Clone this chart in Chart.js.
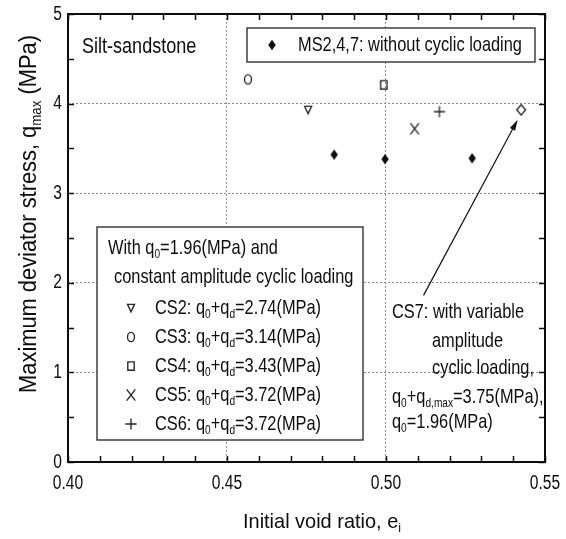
<!DOCTYPE html>
<html>
<head>
<meta charset="utf-8">
<script src="https://cdn.jsdelivr.net/npm/chart.js@4.4.1/dist/chart.umd.min.js"></script>
<style>
  html, body { margin: 0; padding: 0; background: #fff; }
</style>
</head>
<body>
<canvas id="chart" width="566" height="539"></canvas>
<script>
// Monotonic tests (MS2,4,7)
const msVoid = [0.4837, 0.4997, 0.5271];
const msQmax = [3.43, 3.38, 3.39];

// Constant amplitude cyclic tests CS2..CS6
const csNames = ['CS2', 'CS3', 'CS4', 'CS5', 'CS6'];
const csVoid = [0.4755, 0.4566, 0.4993, 0.5090, 0.5168];
const csQmax = [3.93, 4.27, 4.21, 3.72, 3.91];
const csLoad = ['2.74', '3.14', '3.43', '3.72', '3.72'];
const csShape = ['tri', 'circle', 'square', 'cross', 'plus'];

// Variable amplitude test CS7
const cs7Void = [0.5425];
const cs7Qmax = [3.93];

// Arrow from the CS7 note to its point: [x, y] in data units
const arrowTail = [0.5118, 1.86];
const arrowHead = [0.5414, 3.82];

const xLabels = [0.40, 0.45, 0.50, 0.55];
const yLabels = [0, 1, 2, 3, 4, 5];

const FONT = '"Liberation Sans", Arial, sans-serif';
const INK = '#0d0d0d';
const NARROW = 0.78;   // condensed look of the plot lettering

// small canvases used as point styles (markers are a bit taller than wide)
function marker(kind) {
    const c = document.createElement('canvas');
    c.width = 16; c.height = 16;
    const g = c.getContext('2d');
    const cx = 8, cy = 8;
    g.strokeStyle = '#262626';
    g.fillStyle = '#0d0d0d';
    g.lineWidth = 1.35;
    g.beginPath();
    if (kind === 'diamond' || kind === 'odiamond') {
        const w = kind === 'diamond' ? 3.7 : 4.4, h = 5.2;
        g.moveTo(cx, cy - h); g.lineTo(cx + w, cy); g.lineTo(cx, cy + h); g.lineTo(cx - w, cy); g.closePath();
        if (kind === 'diamond') g.fill(); else g.stroke();
    } else if (kind === 'tri') {
        g.moveTo(cx - 3.5, cy - 3.6); g.lineTo(cx + 3.5, cy - 3.6); g.lineTo(cx, cy + 3.9); g.closePath();
        g.stroke();
    } else if (kind === 'circle') {
        g.ellipse(cx, cy, 3.5, 4.6, 0, 0, Math.PI * 2);
        g.stroke();
    } else if (kind === 'square') {
        g.rect(cx - 3.2, cy - 4.2, 6.4, 8.4);
        g.stroke();
    } else if (kind === 'cross') {
        g.moveTo(cx - 4.3, cy - 5.6); g.lineTo(cx + 4.3, cy + 5.6);
        g.moveTo(cx + 4.3, cy - 5.6); g.lineTo(cx - 4.3, cy + 5.6);
        g.stroke();
    } else if (kind === 'plus') {
        g.moveTo(cx - 5.6, cy); g.lineTo(cx + 5.6, cy);
        g.moveTo(cx, cy - 5.6); g.lineTo(cx, cy + 5.6);
        g.stroke();
    }
    return c;
}

const markers = {};
['diamond', 'odiamond', 'tri', 'circle', 'square', 'cross', 'plus'].forEach(k => { markers[k] = marker(k); });

// text made of runs, a run flagged true is a subscript; sx squeezes it horizontally
function drawRuns(ctx, runs, x, y, size, align = 'left', sx = NARROW) {
    const subSize = Math.round(size * 0.62);
    const fontOf = sub => `${sub ? subSize : size}px ${FONT}`;
    let total = 0;
    runs.forEach(([t, sub]) => { ctx.font = fontOf(sub); total += ctx.measureText(t).width; });
    let cx = align === 'center' ? -total / 2 : align === 'right' ? -total : 0;
    ctx.save();
    ctx.translate(x, y);
    ctx.scale(sx, 1);
    ctx.textAlign = 'left';
    ctx.textBaseline = 'middle';
    ctx.fillStyle = INK;
    runs.forEach(([t, sub]) => {
        ctx.font = fontOf(sub);
        ctx.fillText(t, cx, sub ? size * 0.3 : 0);
        cx += ctx.measureText(t).width;
    });
    ctx.restore();
}

const isLabel = (v, list) => list.some(t => Math.abs(t - v) < 1e-6);

const decor = {
    id: 'decor',
    afterDatasetsDraw(chart) {
        const { ctx, chartArea: a, scales: { x, y } } = chart;
        ctx.save();

        // frame
        ctx.strokeStyle = '#0d0d0d';
        ctx.lineWidth = 2;
        ctx.strokeRect(a.left, a.top, a.right - a.left, a.bottom - a.top);

        // inward ticks on all four sides
        ctx.lineWidth = 1.5;
        ctx.beginPath();
        x.ticks.forEach(t => {
            const px = Math.round(x.getPixelForValue(t.value)) + 0.5;
            ctx.moveTo(px, a.bottom); ctx.lineTo(px, a.bottom - 6);
            ctx.moveTo(px, a.top); ctx.lineTo(px, a.top + 6);
        });
        y.ticks.forEach(t => {
            const py = Math.round(y.getPixelForValue(t.value)) + 0.5;
            ctx.moveTo(a.left, py); ctx.lineTo(a.left + 6, py);
            ctx.moveTo(a.right, py); ctx.lineTo(a.right - 6, py);
        });
        ctx.stroke();

        // tick labels
        x.ticks.forEach(t => {
            if (isLabel(t.value, xLabels)) drawRuns(ctx, [[t.value.toFixed(2)]], x.getPixelForValue(t.value), a.bottom + 21, 20, 'center');
        });
        y.ticks.forEach(t => {
            if (isLabel(t.value, yLabels)) drawRuns(ctx, [[String(t.value)]], a.left - 6, y.getPixelForValue(t.value), 20, 'right');
        });

        // arrow to CS7
        const tx = x.getPixelForValue(arrowTail[0]), ty = y.getPixelForValue(arrowTail[1]);
        const hx = x.getPixelForValue(arrowHead[0]), hy = y.getPixelForValue(arrowHead[1]);
        const ang = Math.atan2(hy - ty, hx - tx);
        ctx.strokeStyle = '#111';
        ctx.fillStyle = '#111';
        ctx.lineWidth = 1.2;
        ctx.beginPath();
        ctx.moveTo(tx, ty);
        ctx.lineTo(hx - 8 * Math.cos(ang), hy - 8 * Math.sin(ang));
        ctx.stroke();
        ctx.beginPath();
        ctx.moveTo(hx, hy);
        ctx.lineTo(hx - 11 * Math.cos(ang) + 3 * Math.sin(ang), hy - 11 * Math.sin(ang) - 3 * Math.cos(ang));
        ctx.lineTo(hx - 11 * Math.cos(ang) - 3 * Math.sin(ang), hy - 11 * Math.sin(ang) + 3 * Math.cos(ang));
        ctx.closePath();
        ctx.fill();

        // rock type
        drawRuns(ctx, [['Silt-sandstone']], 82, 47, 22, 'left', 0.82);

        // legend for the monotonic tests
        ctx.fillStyle = '#fff';
        ctx.fillRect(247, 28, 288, 34);
        ctx.strokeStyle = '#222';
        ctx.lineWidth = 1.3;
        ctx.strokeRect(247, 28, 288, 34);
        ctx.drawImage(markers.diamond, 272 - 8, 45 - 8);
        drawRuns(ctx, [['MS2,4,7: without cyclic loading']], 298, 45, 21);

        // legend for the cyclic tests
        ctx.fillStyle = '#fff';
        ctx.fillRect(97, 227, 266, 213);
        ctx.strokeStyle = '#222';
        ctx.strokeRect(97, 227, 266, 213);
        drawRuns(ctx, [['With q'], ['0', true], ['=1.96(MPa) and']], 108, 248, 21);
        drawRuns(ctx, [['constant amplitude cyclic loading']], 114, 277, 21);
        csNames.forEach((n, i) => {
            const ry = 308 + i * 29;
            ctx.drawImage(markers[csShape[i]], 131 - 8, ry - 8);
            drawRuns(ctx, [[n + ': q'], ['0', true], ['+q'], ['d', true], ['=' + csLoad[i] + '(MPa)']], 155, ry, 21);
        });

        // note on CS7
        drawRuns(ctx, [['CS7: with variable']], 392, 312, 21);
        drawRuns(ctx, [['amplitude']], 432, 341, 21);
        drawRuns(ctx, [['cyclic loading,']], 432, 368, 21);
        drawRuns(ctx, [['q'], ['0', true], ['+q'], ['d,max', true], ['=3.75(MPa),']], 392, 397, 21);
        drawRuns(ctx, [['q'], ['0', true], ['=1.96(MPa)']], 392, 422, 21);

        // axis titles
        drawRuns(ctx, [['Initial void ratio, e'], ['i', true]], 243, 522, 21, 'left', 0.95);
        ctx.translate(30, 214);
        ctx.rotate(-Math.PI / 2);
        drawRuns(ctx, [['Maximum deviator stress, q'], ['max', true], [' (MPa)']], 0, 0, 23, 'center', 0.95);

        ctx.restore();
    }
};

const datasets = [{
    label: 'MS2,4,7',
    data: msVoid.map((v, i) => ({ x: v, y: msQmax[i] })),
    pointStyle: markers.diamond
}];
csNames.forEach((n, i) => {
    datasets.push({
        label: n,
        data: [{ x: csVoid[i], y: csQmax[i] }],
        pointStyle: markers[csShape[i]]
    });
});
datasets.push({
    label: 'CS7',
    data: cs7Void.map((v, i) => ({ x: v, y: cs7Qmax[i] })),
    pointStyle: markers.odiamond
});

const gridColor = list => c => {
    const v = c.tick.value;
    if (!isLabel(v, list) || v === list[0] || v === list[list.length - 1]) return 'rgba(0,0,0,0)';
    return '#8c8c8c';
};

new Chart(document.getElementById('chart'), {
    type: 'scatter',
    data: { datasets },
    options: {
        responsive: false,
        devicePixelRatio: 1,
        animation: false,
        layout: { padding: { left: 28, top: 14, right: 21, bottom: 37 } },
        plugins: { legend: { display: false }, tooltip: { enabled: false } },
        scales: {
            x: {
                type: 'linear',
                min: 0.40, max: 0.55,
                afterFit: s => { s.height = 40; },
                grid: { color: gridColor(xLabels), lineWidth: 1, drawTicks: false },
                border: { display: false, dash: [2, 2] },
                ticks: { display: false, stepSize: 0.01, autoSkip: false }
            },
            y: {
                type: 'linear',
                min: 0, max: 5,
                afterFit: s => { s.width = 40; },
                grid: { color: gridColor(yLabels), lineWidth: 1, drawTicks: false },
                border: { display: false, dash: [2, 2] },
                ticks: { display: false, stepSize: 0.5, autoSkip: false }
            }
        },
        elements: { point: { radius: 5, hoverRadius: 5 } }
    },
    plugins: [decor]
});
</script>
</body>
</html>
